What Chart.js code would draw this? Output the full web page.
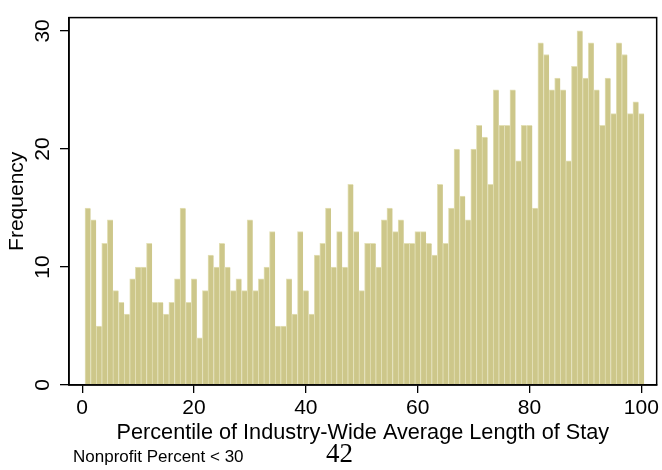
<!DOCTYPE html>
<html><head><meta charset="utf-8">
<script src="https://cdn.jsdelivr.net/npm/chart.js@4/dist/chart.umd.min.js"></script>
<style>
html,body{margin:0;padding:0;background:#fff;}
#wrap{position:relative;width:662px;height:470px;overflow:hidden;background:#fff;}
#c{position:absolute;left:0;top:0;}
.note{position:absolute;left:73px;top:447px;font-family:"Liberation Sans",Arial,sans-serif;font-size:17px;line-height:20px;color:#000;white-space:nowrap;}
.page{position:absolute;left:326px;top:439px;font-family:"Liberation Serif","Times New Roman",serif;font-size:27px;line-height:29px;color:#000;}
</style></head><body>
<div id="wrap"><canvas id="c" width="662" height="470"></canvas>
<div class="note">Nonprofit Percent &lt; 30</div><div class="page">42</div></div>
<script>
const percentiles = [1,2,3,4,5,6,7,8,9,10,11,12,13,14,15,16,17,18,19,20,
  21,22,23,24,25,26,27,28,29,30,31,32,33,34,35,36,37,38,39,40,
  41,42,43,44,45,46,47,48,49,50,51,52,53,54,55,56,57,58,59,60,
  61,62,63,64,65,66,67,68,69,70,71,72,73,74,75,76,77,78,79,80,
  81,82,83,84,85,86,87,88,89,90,91,92,93,94,95,96,97,98,99,100];
const frequency = [15,14,5,12,14,8,7,6,9,10,
  10,12,7,7,6,7,9,15,7,9,
  4,8,11,10,12,10,8,9,8,14,
  8,9,10,13,5,5,9,6,13,8,
  6,11,12,15,10,13,10,17,13,8,
  12,12,10,14,15,13,14,12,12,13,
  13,12,11,17,12,15,20,16,14,20,
  22,21,17,25,22,22,25,19,22,22,
  15,29,28,25,26,25,19,27,30,26,
  29,25,22,26,23,29,28,23,24,23];
const xTicks = [0,20,40,60,80,100];
const yTicks = [0,10,20,30];
const xLabel = 'Percentile of Industry-Wide Average Length of Stay';
const yLabel = 'Frequency';

const F = '"Liberation Sans", Arial, Helvetica, sans-serif';
const framePlugin = {
  id:'frame',
  afterDraw(chart){
    const {ctx, chartArea:a} = chart;
    ctx.save();
    ctx.strokeStyle = '#000';
    ctx.lineWidth = 1.5;
    ctx.strokeRect(a.left, a.top, a.right - a.left, a.bottom - a.top);
    ctx.restore();
  }
};

new Chart(document.getElementById('c'), {
  type:'bar',
  data:{
    datasets:[{
      data: percentiles.map((p,i)=>({x:p, y:frequency[i]})),
      backgroundColor:'#cdc78a',
      borderColor:'#e3e0b6',
      borderWidth:{top:1,left:1,right:0,bottom:0},
      borderSkipped:false,
      barPercentage:1,
      categoryPercentage:1
    }]
  },
  options:{
    responsive:false, animation:false, devicePixelRatio:1,
    layout:{padding:{left:0, top:8, right:5, bottom:0}},
    plugins:{legend:{display:false}, tooltip:{enabled:false}},
    scales:{
      x:{
        type:'linear', min:-2.36, max:102.74, offset:false,
        afterBuildTicks:s=>{ s.ticks = xTicks.map(v=>({value:v})); },
        afterFit:s=>{ s.height = 85; },
        grid:{drawOnChartArea:false, drawTicks:true, tickLength:8, color:'#000', lineWidth:1.3, offset:false},
        border:{display:true, color:'#000', width:1.5},
        ticks:{font:{family:F, size:21}, color:'#000', padding:3, maxRotation:0, minRotation:0, autoSkip:false},
        title:{display:true, text:xLabel, font:{family:F, size:21.7}, color:'#000', padding:{top:0, bottom:24}}
      },
      y:{
        min:0, max:31.13,
        afterBuildTicks:s=>{ s.ticks = yTicks.map(v=>({value:v})); },
        afterFit:s=>{ s.width = 69; },
        grid:{drawOnChartArea:false, drawTicks:true, tickLength:9, color:'#000', lineWidth:1.3},
        border:{display:true, color:'#000', width:1.5},
        ticks:{font:{family:F, size:21}, color:'#000', padding:5, minRotation:90, maxRotation:90, crossAlign:'center', autoSkip:false},
        title:{display:true, text:yLabel, font:{family:F, size:21}, color:'#000', padding:{top:5, bottom:0}}
      }
    }
  },
  plugins:[framePlugin]
});
</script>
</body></html>
